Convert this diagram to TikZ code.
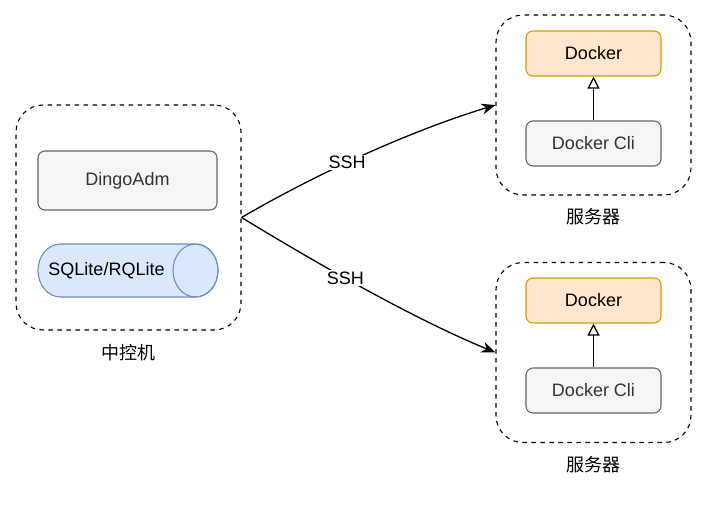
\documentclass[tikz,border=0pt]{standalone}
\usepackage{fontspec}
\setmainfont{Liberation Sans}
\newfontfamily\cjk{Noto Sans CJK SC}
\usetikzlibrary{arrows.meta}
\definecolor{grayfill}{HTML}{F5F5F5}
\definecolor{graystroke}{HTML}{666666}
\definecolor{graytext}{HTML}{333333}
\definecolor{orfill}{HTML}{FFE6CC}
\definecolor{orstroke}{HTML}{D79B00}
\definecolor{blfill}{HTML}{DAE8FC}
\definecolor{blstroke}{HTML}{6C8EBF}
\tikzset{
  container/.style={draw=black, line width=1.1pt, dash pattern=on 4.5pt off 4.5pt, rounded corners=27pt, inner sep=0pt},
  graybox/.style={draw=graystroke, fill=grayfill, text=graytext, line width=1.1pt, rounded corners=7pt, inner sep=0pt},
  dockerbox/.style={draw=orstroke, fill=orfill, text=black, line width=1.1pt, rounded corners=7pt, inner sep=0pt},
  lbl/.style={font=\fontsize{18}{21}\selectfont},
  cjklbl/.style={font=\cjk\fontsize{18}{21}\selectfont},
  sshline/.style={line width=1.3pt, -{Stealth[length=14pt, width=11pt, inset=4.5pt]}},
  inherit/.style={line width=1.3pt, -{Triangle[open, length=12pt, width=12pt]}},
  edgelabel/.style={fill=white, inner sep=1.5pt, font=\fontsize{18}{21}\selectfont},
}
\begin{document}
\begin{tikzpicture}[x=1pt, y=-1pt]
\useasboundingbox (0,0) rectangle (707,504);
% left container
\node[container, minimum width=225pt, minimum height=225pt] (L) at (128.5,217.5) {};
\node[graybox, lbl, minimum width=179pt, minimum height=59pt] (adm) at (127.5,180.5) {DingoAdm};
% cylinder
\path[draw=blstroke, fill=blfill, line width=1.1pt]
  (60.5,244) -- (195.5,244) arc[start angle=-90, end angle=90, x radius=22.5, y radius=26.5]
  -- (60.5,297) arc[start angle=90, end angle=270, x radius=22.5, y radius=26.5] -- cycle;
\draw[draw=blstroke, line width=1.1pt] (195.5,270.5) ellipse[x radius=22.5, y radius=26.5];
\node[lbl] (db) at (106.5,270.5) {SQLite/RQLite};
\node[cjklbl] (lname) at (128.5,353) {中控机};
% top server
\node[container, minimum width=195pt, minimum height=180pt] (S1) at (593.5,105) {};
\node[dockerbox, lbl, minimum width=135pt, minimum height=45pt] (d1) at (593.5,53.5) {Docker};
\node[graybox, lbl, minimum width=135pt, minimum height=45pt] (c1) at (593.5,143.5) {Docker Cli};
\node[cjklbl] (s1name) at (593.5,217) {服务器};
% bottom server
\node[container, minimum width=195pt, minimum height=180pt] (S2) at (593.5,352.5) {};
\node[dockerbox, lbl, minimum width=135pt, minimum height=45pt] (d2) at (593.5,300.5) {Docker};
\node[graybox, lbl, minimum width=135pt, minimum height=45pt] (c2) at (593.5,390.5) {Docker Cli};
\node[cjklbl] (s2name) at (593.5,465) {服务器};
% inner arrows
\draw[inherit] (c1.north) -- (d1.south);
\draw[inherit] (c2.north) -- (d2.south);
% SSH connectors
\draw[sshline] (L.east) .. controls (318,173) and (410,131) .. (S1.west)
  node[edgelabel, pos=0.43] {SSH};
\draw[sshline] (L.east) .. controls (318,264) and (412.6,318.3) .. (S2.west)
  node[edgelabel, pos=0.42] {SSH};
\end{tikzpicture}
\end{document}
